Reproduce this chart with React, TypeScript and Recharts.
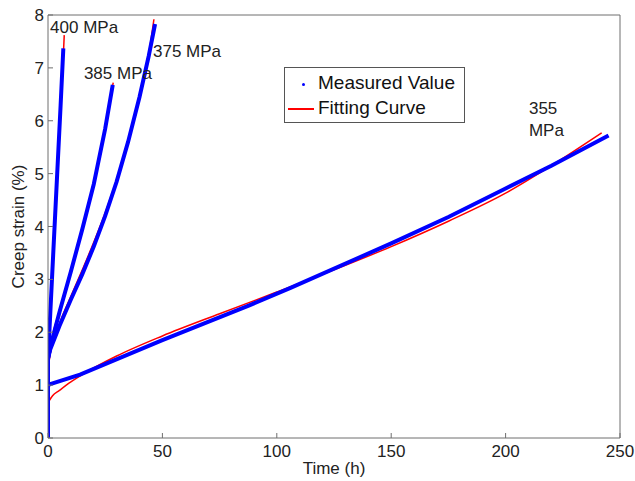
import React from 'react'
import { LineChart, Line, XAxis, YAxis, ReferenceLine, ReferenceDot, Legend, Label } from 'recharts'

// measured creep strain (%) vs time (h)
const measured400 = [
  { t: 0, e: 0 }, { t: 0, e: 1.5 }, { t: 1, e: 2.36 }, { t: 2.3, e: 3.5 }, { t: 4, e: 4.98 },
  { t: 5.5, e: 6.28 }, { t: 6.7, e: 7.37 },
]
const measured385 = [
  { t: 0, e: 0 }, { t: 0, e: 1.5 }, { t: 1, e: 1.72 }, { t: 5, e: 2.38 }, { t: 10, e: 3.15 },
  { t: 15, e: 3.95 }, { t: 20, e: 4.8 }, { t: 25, e: 5.85 }, { t: 28.3, e: 6.68 },
]
const measured375 = [
  { t: 0, e: 0 }, { t: 0, e: 1.5 }, { t: 1, e: 1.68 }, { t: 5, e: 2.12 }, { t: 10, e: 2.62 },
  { t: 15, e: 3.1 }, { t: 20, e: 3.62 }, { t: 25, e: 4.2 }, { t: 30, e: 4.85 }, { t: 35, e: 5.6 },
  { t: 40, e: 6.45 }, { t: 44, e: 7.22 }, { t: 46.8, e: 7.83 },
]
const measured355 = [
  { t: 0, e: 0 }, { t: 0, e: 1.0 }, { t: 1, e: 1.02 }, { t: 14, e: 1.2 }, { t: 50, e: 1.85 },
  { t: 88, e: 2.51 }, { t: 106, e: 2.84 }, { t: 150, e: 3.68 }, { t: 175, e: 4.18 }, { t: 200, e: 4.72 },
  { t: 220, e: 5.15 }, { t: 245, e: 5.72 },
]

// fitted curves
const fit400 = [
  { t: 0, e: 1.4 }, { t: 1, e: 2.3 }, { t: 2.3, e: 3.45 }, { t: 4, e: 4.93 }, { t: 5.5, e: 6.25 },
  { t: 6.5, e: 7.05 }, { t: 7.1, e: 7.62 },
]
const fit385 = [
  { t: 0, e: 1.35 }, { t: 1, e: 1.7 }, { t: 5, e: 2.4 }, { t: 10, e: 3.18 }, { t: 15, e: 3.98 },
  { t: 20, e: 4.83 }, { t: 25, e: 5.86 }, { t: 28.5, e: 6.72 },
]
const fit375 = [
  { t: 0, e: 1.3 }, { t: 1, e: 1.6 }, { t: 5, e: 2.16 }, { t: 10, e: 2.68 }, { t: 15, e: 3.18 },
  { t: 20, e: 3.7 }, { t: 25, e: 4.26 }, { t: 30, e: 4.88 }, { t: 35, e: 5.6 }, { t: 40, e: 6.45 },
  { t: 44, e: 7.25 }, { t: 46.3, e: 7.92 },
]
const fit355 = [
  { t: 0.3, e: 0.69 }, { t: 2, e: 0.8 }, { t: 5, e: 0.9 }, { t: 10, e: 1.06 }, { t: 17, e: 1.25 },
  { t: 30, e: 1.55 }, { t: 50, e: 1.93 }, { t: 75, e: 2.35 }, { t: 100, e: 2.76 }, { t: 125, e: 3.18 },
  { t: 150, e: 3.62 }, { t: 175, e: 4.1 }, { t: 200, e: 4.63 }, { t: 220, e: 5.15 }, { t: 242, e: 5.77 },
]

const xTicks = [0, 50, 100, 150, 200, 250]
const yTicks = [0, 1, 2, 3, 4, 5, 6, 7, 8]

const FONT = '"Liberation Sans", Arial, sans-serif'
const BLUE = '#0000ff'
const RED = '#ff0000'
const AXIS = '#6e6e6e'

// stress labels placed at (t, e) = left baseline of the text
const stressLabels = [
  { t: 0.9, e: 7.66, lines: ['400 MPa'] },
  { t: 15.7, e: 6.79, lines: ['385 MPa'] },
  { t: 45.9, e: 7.2, lines: ['375 MPa'] },
  { t: 210.2, e: 6.12, lines: ['355', 'MPa'] },
]

const renderLegend = () => (
  <div
    style={{
      width: 181, height: 56, boxSizing: 'border-box', border: '1px solid #555', background: '#fff',
      fontFamily: FONT, fontSize: 19, color: '#111', position: 'relative',
    }}
  >
    <div style={{ position: 'absolute', left: 17, top: 15, width: 3, height: 3, borderRadius: 2, background: BLUE }} />
    <div style={{ position: 'absolute', left: 33, top: 4, lineHeight: '22px' }}>Measured Value</div>
    <div style={{ position: 'absolute', left: 3, top: 40, width: 26, height: 2, background: RED }} />
    <div style={{ position: 'absolute', left: 33, top: 29, lineHeight: '22px' }}>Fitting Curve</div>
  </div>
)

const App = () => {
  return (
    <div style={{ position: 'absolute', left: 0, top: 0, width: 635, height: 481, background: '#fff' }}>
      <LineChart width={635} height={481} margin={{ top: 15, right: 15, bottom: 0, left: 0 }}>
        <XAxis
          dataKey="t" type="number" domain={[0, 250]} ticks={xTicks} allowDataOverflow
          height={43} tickSize={-5} tickMargin={12} stroke={AXIS}
          tick={{ fill: '#222', fontSize: 17, fontFamily: FONT }}
        >
          <Label value="Time (h)" position="insideBottom" offset={7} style={{ fill: '#222', fontSize: 17, fontFamily: FONT }} />
        </XAxis>
        <YAxis
          dataKey="e" type="number" domain={[0, 8]} ticks={yTicks} allowDataOverflow
          width={48} tickSize={-5} tickMargin={9} stroke={AXIS}
          tick={{ fill: '#222', fontSize: 17, fontFamily: FONT }}
        >
          <Label value="Creep strain (%)" angle={-90} position="insideLeft" offset={18} style={{ fill: '#222', fontSize: 17, fontFamily: FONT, textAnchor: 'middle' }} />
        </YAxis>
        <ReferenceLine y={8} stroke={AXIS} />
        <ReferenceLine x={250} stroke={AXIS} />
        <Legend
          layout="vertical" align="center" verticalAlign="middle" content={renderLegend}
          wrapperStyle={{ position: 'absolute', left: 284, top: 67, width: 181, height: 56 }}
        />
        <Line data={fit355} dataKey="e" type="monotone" stroke={RED} strokeWidth={1.5} dot={false} isAnimationActive={false} legendType="none" />
        <Line data={fit375} dataKey="e" type="monotone" stroke={RED} strokeWidth={1.5} dot={false} isAnimationActive={false} legendType="none" />
        <Line data={fit385} dataKey="e" type="monotone" stroke={RED} strokeWidth={1.5} dot={false} isAnimationActive={false} legendType="none" />
        <Line data={fit400} dataKey="e" type="monotone" stroke={RED} strokeWidth={1.5} dot={false} isAnimationActive={false} legendType="none" />
        <Line data={measured355} dataKey="e" stroke={BLUE} strokeWidth={4} dot={false} isAnimationActive={false} legendType="none" />
        <Line data={measured375} dataKey="e" stroke={BLUE} strokeWidth={4} dot={false} isAnimationActive={false} legendType="none" />
        <Line data={measured385} dataKey="e" stroke={BLUE} strokeWidth={4} dot={false} isAnimationActive={false} legendType="none" />
        <Line data={measured400} dataKey="e" stroke={BLUE} strokeWidth={4} dot={false} isAnimationActive={false} legendType="none" />
        {stressLabels.map((s) => (
          <ReferenceDot
            key={s.lines.join(' ')} x={s.t} y={s.e} r={1}
            shape={(p: any) => (
              <text x={p.cx} y={p.cy} fill="#222" fontSize={17} fontFamily={FONT}>
                {s.lines.map((ln, i) => (
                  <tspan key={ln} x={p.cx} dy={i === 0 ? 0 : 22}>{ln}</tspan>
                ))}
              </text>
            )}
          />
        ))}
      </LineChart>
    </div>
  )
}

export default App
